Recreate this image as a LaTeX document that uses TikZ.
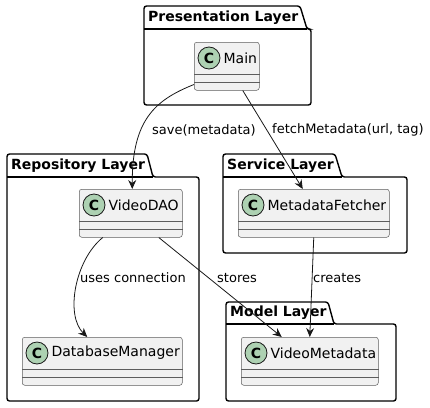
\documentclass[tikz,border=0pt]{standalone}
\usepackage{fontspec}
\setmainfont{DejaVu Sans}
\usepackage{tikz}
\usetikzlibrary{arrows.meta, positioning, calc}
\usepackage{xcolor}
\definecolor{umlfill}{HTML}{F1F1F1}
\definecolor{umldark}{HTML}{181818}
\definecolor{umlspot}{HTML}{ADD1B2}

% class box: name, left, top, width, title
\newcommand{\umlclass}[5]{%
  \node[clsbox, minimum width=#4, anchor=north west] (#1) at (#2,#3) {};
  \draw[clsline] ([yshift=-32pt]#1.north west) -- ([yshift=-32pt]#1.north east);
  \draw[clsline] ([yshift=-40pt]#1.north west) -- ([yshift=-40pt]#1.north east);
  \node[spot] (#1spot) at ([xshift=15pt,yshift=-16pt]#1.north west) {C};
  \node[clsname, right=3pt of #1spot] (#1name) {#5};
}
% package: name, left, tab top, box top, tab corner, tab foot, right, bottom, title
\newcommand{\umlpkg}[9]{%
  \draw[pkg] (#2,#4) -- (#2,#3) -- (#5,#3) -- (#6,#4) -- (#7,#4) -- (#7,#8) -- (#2,#8) -- cycle;
  \draw[pkg] (#2,#4) -- (#6,#4);
  \node[pkgtitle] (#1) at (#2+4, {(#3+#4)/2}) {#9};
}

\begin{document}
\begin{tikzpicture}[
    x=1pt, y=-1pt,
    pkg/.style={draw=black, line width=1.4pt, rounded corners=2.5pt},
    pkgtitle/.style={anchor=west, inner sep=0pt, font=\fontsize{14}{16}\selectfont\bfseries},
    clsbox/.style={rectangle, draw=umldark!70, fill=umlfill, line width=0.5pt,
                   rounded corners=2.5pt, minimum height=48pt, inner sep=0pt},
    clsline/.style={draw=umldark!70, line width=0.5pt},
    spot/.style={circle, draw=umldark, fill=umlspot, line width=0.8pt, minimum size=22pt,
                 inner sep=0pt, font=\fontsize{14}{16}\selectfont\bfseries},
    clsname/.style={anchor=west, inner sep=0pt, font=\fontsize{14}{16}\selectfont},
    lbl/.style={anchor=west, inner sep=0pt, font=\fontsize{13}{15}\selectfont},
    arr/.style={-{Stealth[length=9pt, width=8pt, inset=3pt]}, umldark, line width=0.8pt},
]
    \useasboundingbox (0,0) rectangle (430,407);

    \umlpkg{presentation}{144}{6}{29}{300}{307}{311}{105}{Presentation Layer}
    \umlpkg{repository}{7}{154}{177}{147}{153}{199}{401}{Repository Layer}
    \umlpkg{service}{223}{154}{177}{335}{342}{407}{253}{Service Layer}
    \umlpkg{model}{226}{302}{324}{328}{334}{396}{401}{Model Layer}

    \umlclass{main}{194}{42}{65}{Main}
    \umlclass{vdao}{79}{189}{103}{VideoDAO}
    \umlclass{dbm}{22}{337}{160}{DatabaseManager}
    \umlclass{mfetch}{238}{189}{151}{MetadataFetcher}
    \umlclass{vmeta}{241}{337}{137}{VideoMetadata}

    \draw[arr] ([yshift=6pt]main.south west) .. controls (155,100) and (132,120) .. ([xshift=1.5pt]vdao.north);
    \draw[arr] ([xshift=16pt]main.south) -- ([xshift=-11pt]mfetch.north);
    \draw[arr] ([xshift=-28pt]vdao.south) .. controls (75,260) and (65,315) .. ([xshift=-15pt]dbm.north);
    \draw[arr] ([xshift=28pt]vdao.south) -- ([xshift=-28pt]vmeta.north);
    \draw[arr] (mfetch.south) -- (vmeta.north);

    \node[lbl] (lsave) at (152,130) {save(metadata)};
    \node[lbl] (lfetch) at (272,130) {fetchMetadata(url, tag)};
    \node[lbl] (luses) at (80,278) {uses connection};
    \node[lbl] (lstores) at (217,278) {stores};
    \node[lbl] (lcreates) at (313,278) {creates};
\end{tikzpicture}
\end{document}
